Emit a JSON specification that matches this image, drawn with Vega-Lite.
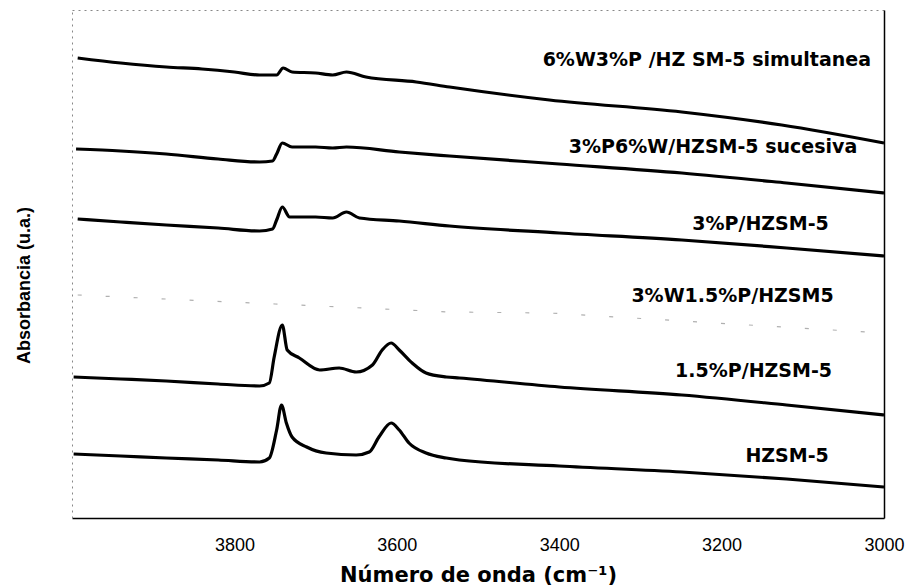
{
  "$schema": "https://vega.github.io/schema/vega-lite/v6.json",
  "width": 812,
  "height": 508,
  "autosize": {"type": "none"},
  "padding": {"left": 72, "top": 10, "right": 30, "bottom": 70},
  "background": "white",
  "config": {"view": {"stroke": null}},
  "datasets": {
    "spectra": [
      {"s": "sim", "wn": 3993, "a": 460}, {"s": "sim", "wn": 3940, "a": 455}, {"s": "sim", "wn": 3884, "a": 451}, {"s": "sim", "wn": 3840, "a": 449}, {"s": "sim", "wn": 3800, "a": 446}, {"s": "sim", "wn": 3769, "a": 443}, {"s": "sim", "wn": 3748, "a": 443}, {"s": "sim", "wn": 3740, "a": 450}, {"s": "sim", "wn": 3729, "a": 446}, {"s": "sim", "wn": 3700, "a": 445}, {"s": "sim", "wn": 3679, "a": 443}, {"s": "sim", "wn": 3662, "a": 446}, {"s": "sim", "wn": 3638, "a": 441}, {"s": "sim", "wn": 3576, "a": 436}, {"s": "sim", "wn": 3535, "a": 431}, {"s": "sim", "wn": 3412, "a": 418}, {"s": "sim", "wn": 3249, "a": 406}, {"s": "sim", "wn": 3126, "a": 393}, {"s": "sim", "wn": 3000, "a": 375},
      {"s": "suc", "wn": 3995, "a": 369}, {"s": "suc", "wn": 3940, "a": 367}, {"s": "suc", "wn": 3884, "a": 364}, {"s": "suc", "wn": 3820, "a": 359}, {"s": "suc", "wn": 3769, "a": 356}, {"s": "suc", "wn": 3753, "a": 357}, {"s": "suc", "wn": 3748, "a": 364}, {"s": "suc", "wn": 3741, "a": 375}, {"s": "suc", "wn": 3729, "a": 371}, {"s": "suc", "wn": 3700, "a": 371}, {"s": "suc", "wn": 3679, "a": 370}, {"s": "suc", "wn": 3662, "a": 371}, {"s": "suc", "wn": 3597, "a": 366}, {"s": "suc", "wn": 3535, "a": 362}, {"s": "suc", "wn": 3400, "a": 354}, {"s": "suc", "wn": 3249, "a": 345}, {"s": "suc", "wn": 3120, "a": 335}, {"s": "suc", "wn": 3000, "a": 325},
      {"s": "p3", "wn": 3993, "a": 299}, {"s": "p3", "wn": 3940, "a": 296}, {"s": "p3", "wn": 3884, "a": 293}, {"s": "p3", "wn": 3820, "a": 290}, {"s": "p3", "wn": 3769, "a": 287}, {"s": "p3", "wn": 3753, "a": 289}, {"s": "p3", "wn": 3748, "a": 298}, {"s": "p3", "wn": 3741, "a": 311}, {"s": "p3", "wn": 3732, "a": 301}, {"s": "p3", "wn": 3700, "a": 301}, {"s": "p3", "wn": 3679, "a": 300}, {"s": "p3", "wn": 3662, "a": 306}, {"s": "p3", "wn": 3646, "a": 300}, {"s": "p3", "wn": 3597, "a": 297}, {"s": "p3", "wn": 3535, "a": 292}, {"s": "p3", "wn": 3400, "a": 285}, {"s": "p3", "wn": 3249, "a": 278}, {"s": "p3", "wn": 3120, "a": 270}, {"s": "p3", "wn": 3000, "a": 262},
      {"s": "w3", "wn": 3993, "a": 223}, {"s": "w3", "wn": 3750, "a": 214}, {"s": "w3", "wn": 3535, "a": 206}, {"s": "w3", "wn": 3412, "a": 205}, {"s": "w3", "wn": 3207, "a": 195}, {"s": "w3", "wn": 3105, "a": 190}, {"s": "w3", "wn": 3000, "a": 185},
      {"s": "p15", "wn": 3998, "a": 141}, {"s": "p15", "wn": 3940, "a": 139}, {"s": "p15", "wn": 3884, "a": 137}, {"s": "p15", "wn": 3820, "a": 134}, {"s": "p15", "wn": 3769, "a": 132}, {"s": "p15", "wn": 3757, "a": 135}, {"s": "p15", "wn": 3751, "a": 161}, {"s": "p15", "wn": 3741, "a": 193}, {"s": "p15", "wn": 3735, "a": 168}, {"s": "p15", "wn": 3720, "a": 160}, {"s": "p15", "wn": 3695, "a": 148}, {"s": "p15", "wn": 3671, "a": 150}, {"s": "p15", "wn": 3650, "a": 146}, {"s": "p15", "wn": 3630, "a": 153}, {"s": "p15", "wn": 3618, "a": 168}, {"s": "p15", "wn": 3607, "a": 175}, {"s": "p15", "wn": 3597, "a": 168}, {"s": "p15", "wn": 3581, "a": 155}, {"s": "p15", "wn": 3564, "a": 145}, {"s": "p15", "wn": 3539, "a": 141}, {"s": "p15", "wn": 3523, "a": 140}, {"s": "p15", "wn": 3400, "a": 131}, {"s": "p15", "wn": 3249, "a": 123}, {"s": "p15", "wn": 3120, "a": 113}, {"s": "p15", "wn": 3000, "a": 103},
      {"s": "h", "wn": 3998, "a": 64}, {"s": "h", "wn": 3940, "a": 62}, {"s": "h", "wn": 3884, "a": 60}, {"s": "h", "wn": 3820, "a": 58}, {"s": "h", "wn": 3769, "a": 56}, {"s": "h", "wn": 3757, "a": 60}, {"s": "h", "wn": 3748, "a": 88}, {"s": "h", "wn": 3742, "a": 113}, {"s": "h", "wn": 3736, "a": 95}, {"s": "h", "wn": 3729, "a": 81}, {"s": "h", "wn": 3711, "a": 71}, {"s": "h", "wn": 3687, "a": 65}, {"s": "h", "wn": 3650, "a": 63}, {"s": "h", "wn": 3634, "a": 66}, {"s": "h", "wn": 3622, "a": 81}, {"s": "h", "wn": 3607, "a": 95}, {"s": "h", "wn": 3597, "a": 88}, {"s": "h", "wn": 3585, "a": 75}, {"s": "h", "wn": 3564, "a": 65}, {"s": "h", "wn": 3539, "a": 60}, {"s": "h", "wn": 3523, "a": 58}, {"s": "h", "wn": 3400, "a": 52}, {"s": "h", "wn": 3249, "a": 46}, {"s": "h", "wn": 3120, "a": 39}, {"s": "h", "wn": 3000, "a": 31}
    ],
    "labels": [
      {"t": "6%W3%P /HZ SM-5 simultanea", "wn": 3016, "a": 458},
      {"t": "3%P6%W/HZSM-5 sucesiva", "wn": 3033, "a": 371},
      {"t": "3%P/HZSM-5", "wn": 3068, "a": 294},
      {"t": "3%W1.5%P/HZSM5", "wn": 3062, "a": 222},
      {"t": "1.5%P/HZSM-5", "wn": 3064, "a": 147},
      {"t": "HZSM-5", "wn": 3068, "a": 62}
    ]
  },
  "layer": [
    {
      "data": {"name": "spectra"},
      "transform": [{"filter": "datum.s !== 'w3'"}],
      "mark": {"type": "line", "color": "black", "strokeWidth": 3.2, "interpolate": "monotone"},
      "encoding": {
        "x": {"field": "wn", "type": "quantitative", "scale": {"domain": [4000, 3000], "nice": false, "zero": false},
          "axis": {"orient": "bottom", "values": [3800, 3600, 3400, 3200, 3000], "format": "d", "ticks": false, "tickSize": 0, "grid": false,
            "domainColor": "black", "domainWidth": 1.5, "labelFont": "Liberation Sans", "labelFontSize": 18, "labelColor": "black",
            "labelPadding": 18, "labelFlush": false,
            "title": "Número de onda (cm⁻¹)", "titleFont": "DejaVu Sans", "titleFontSize": 21, "titleFontWeight": "bold", "titleColor": "black",
            "titleBaseline": "middle", "titleY": 57}},
        "y": {"field": "a", "type": "quantitative", "scale": {"domain": [0, 508], "nice": false},
          "axis": {"orient": "left", "labels": false, "ticks": false, "grid": false, "domainColor": "#888", "domainDash": [2, 4], "domainWidth": 1,
            "title": "Absorbancia (u.a.)", "titleFont": "Liberation Sans", "titleFontSize": 18, "titleFontWeight": "bold", "titleColor": "black",
            "titleBaseline": "middle", "titleAlign": "center", "titleX": -48, "titleY": 275}},
        "detail": {"field": "s"}
      }
    },
    {
      "data": {"name": "spectra"},
      "transform": [{"filter": "datum.s === 'w3'"}],
      "mark": {"type": "line", "color": "#b0b0b0", "strokeWidth": 1.2, "strokeDash": [4, 24]},
      "encoding": {
        "x": {"field": "wn", "type": "quantitative", "axis": null},
        "y": {"field": "a", "type": "quantitative", "axis": null}
      }
    },
    {
      "data": {"name": "labels"},
      "mark": {"type": "text", "align": "right", "baseline": "middle", "font": "DejaVu Sans", "fontSize": 19, "fontWeight": "bold", "color": "black"},
      "encoding": {
        "x": {"field": "wn", "type": "quantitative", "axis": {"orient": "top", "labels": false, "ticks": false, "grid": false, "title": null, "domainColor": "#888", "domainDash": [2, 4]}},
        "y": {"field": "a", "type": "quantitative", "axis": {"orient": "right", "labels": false, "ticks": false, "grid": false, "title": null, "domainColor": "black", "domainWidth": 1.5}},
        "text": {"field": "t"}
      }
    }
  ],
  "resolve": {"axis": {"x": "independent", "y": "independent"}}
}
